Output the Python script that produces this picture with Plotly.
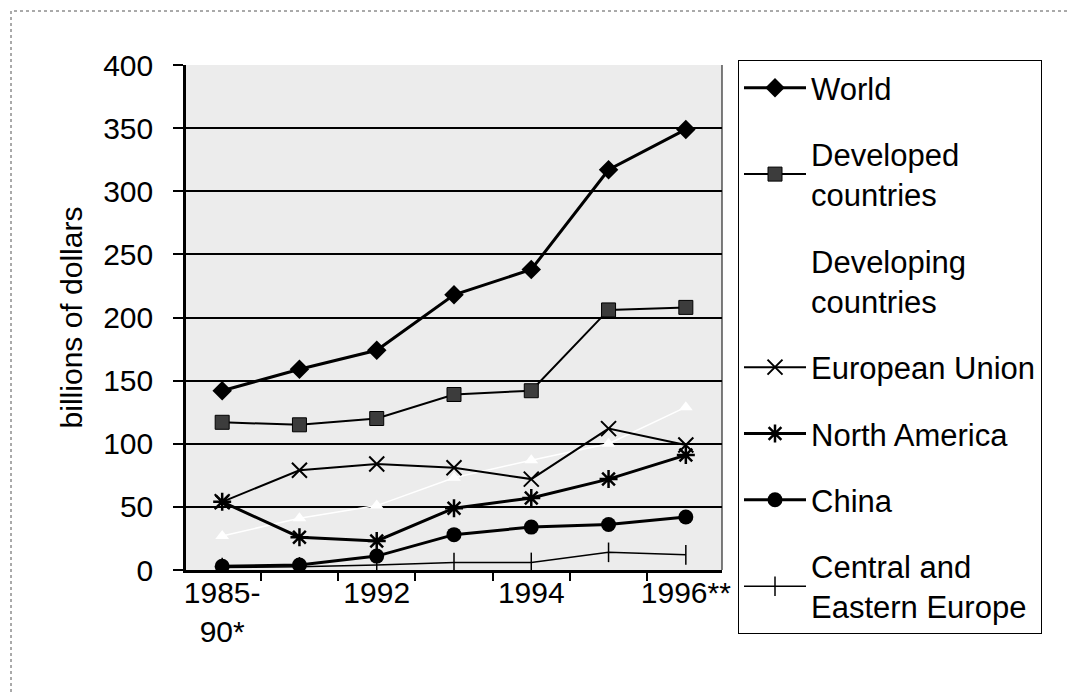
import plotly.graph_objects as go

# Données (milliards de dollars)
categories = ["1985-90*", "1991", "1992", "1993", "1994", "1995", "1996**"]
tick_labels = ["1985-<br>90*", "", "1992", "", "1994", "", "1996**"]

world = [142, 159, 174, 218, 238, 317, 349]
developed = [117, 115, 120, 139, 142, 206, 208]
developing = [27, 41, 51, 73, 87, 100, 129]
european_union = [54, 79, 84, 81, 72, 112, 99]
north_america = [54, 26, 23, 49, 57, 72, 91]
china = [3, 4, 11, 28, 34, 36, 42]
central_eastern_europe = [2, 2.5, 4, 6, 6, 14, 12]

FONT = "Liberation Sans, Arial, sans-serif"
W, H = 1077, 692
ML, MR, MT, MB = 178, 363, 57, 130

series = [
    ("World", world, dict(color="black", width=3),
     dict(symbol="diamond", size=15, color="black")),
    ("Developed<br>countries", developed, dict(color="black", width=2),
     dict(symbol="square", size=14, color="#3c3c3c", line=dict(color="black", width=1))),
    ("Developing<br>countries", developing, dict(color="white", width=1.5),
     dict(symbol="triangle-up", size=12, color="white")),
    ("European Union", european_union, dict(color="black", width=2),
     dict(symbol="x-thin-open", size=15, color="black", line=dict(color="black", width=2))),
    ("North America", north_america, dict(color="black", width=3),
     dict(symbol="asterisk-open", size=15, color="black", line=dict(color="black", width=2.5))),
    ("China", china, dict(color="black", width=3),
     dict(symbol="circle", size=15, color="black")),
    ("Central and<br>Eastern Europe", central_eastern_europe, dict(color="black", width=1.5),
     dict(symbol="line-ns-open", size=14, color="black", line=dict(color="black", width=1.5))),
]

fig = go.Figure()
for i, (name, values, line, marker) in enumerate(series):
    fig.add_trace(go.Scatter(
        x=categories,
        y=values,
        mode="lines+markers",
        name=name,
        legendgroup=str(i),
        line=line,
        marker=marker,
    ))

pw = W - ML - MR
ph = H - MT - MB

fig.update_layout(
    width=W,
    height=H,
    margin=dict(l=ML, r=MR, t=MT, b=MB, pad=0),
    paper_bgcolor="white",
    plot_bgcolor="#ececec",
    font=dict(family=FONT, size=30, color="black"),
    showlegend=True,
    legend=dict(
        x=(730 - ML) / pw,
        y=(H - MB - 52) / ph,
        xanchor="left",
        yanchor="top",
        bgcolor="white",
        bordercolor="black",
        borderwidth=1,
        font=dict(family=FONT, size=31),
        tracegroupgap=23,
        traceorder="grouped",
        itemwidth=62,
        maxheight=660,
    ),
    xaxis=dict(
        type="category",
        tickmode="array",
        tickvals=categories,
        ticktext=tick_labels,
        tickson="boundaries",
        tickangle=0,
        ticks="outside",
        ticklen=8,
        tickwidth=1.5,
        tickcolor="black",
        showline=True,
        linecolor="black",
        linewidth=2.5,
        showgrid=False,
        ticklabelstandoff=-6,
        tickfont=dict(family=FONT, size=30),
    ),
    yaxis=dict(
        range=[0, 400],
        dtick=50,
        ticks="outside",
        ticklen=10,
        tickwidth=1.5,
        tickcolor="black",
        showline=True,
        linecolor="black",
        linewidth=2.5,
        showgrid=True,
        gridcolor="black",
        gridwidth=1.5,
        zeroline=False,
        ticklabelstandoff=14,
        tickfont=dict(family=FONT, size=30),
        title=dict(text="billions of dollars", font=dict(family=FONT, size=30), standoff=12),
    ),
)

# bord droit fin de la zone de tracé
fig.add_shape(type="line", xref="paper", yref="paper", x0=1, x1=1, y0=0, y1=1,
              line=dict(color="black", width=1))
# cadre extérieur du graphique
fig.add_shape(type="rect", xref="paper", yref="paper",
              x0=(3 - ML) / pw, x1=(1073 - ML) / pw,
              y0=(H - MB - 689) / ph, y1=(H - MB - 3) / ph,
              line=dict(color="#555555", width=1, dash="dot"), layer="below")

fig.write_html("out.html")
